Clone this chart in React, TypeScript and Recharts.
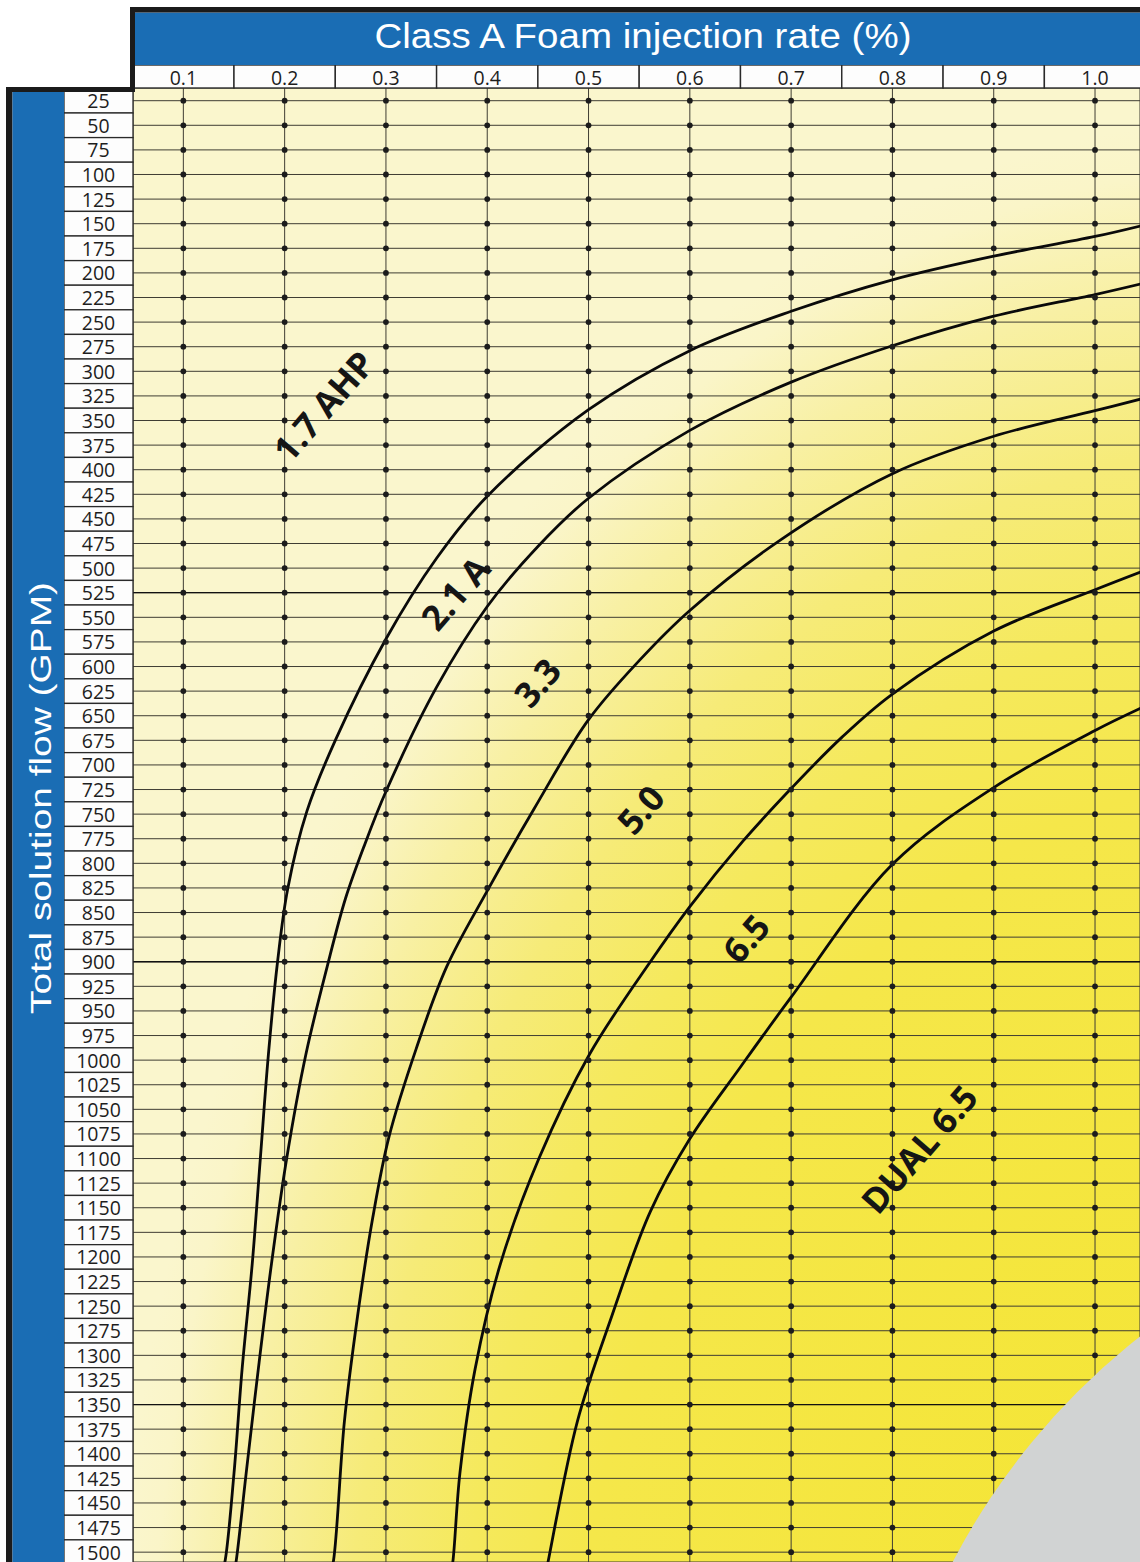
import React from "react";
import {
  ComposedChart,
  Line,
  Scatter,
  XAxis,
  YAxis,
  CartesianGrid,
  ReferenceDot,
  ReferenceLine,
} from "recharts";

// ticks
const injectionTicks = [0.1, 0.2, 0.3, 0.4, 0.5, 0.6, 0.7, 0.8, 0.9, 1.0];
const flowTicks = [
  25, 50, 75, 100, 125, 150, 175, 200, 225, 250, 275, 300, 325, 350, 375, 400,
  425, 450, 475, 500, 525, 550, 575, 600, 625, 650, 675, 700, 725, 750, 775,
  800, 825, 850, 875, 900, 925, 950, 975, 1000, 1025, 1050, 1075, 1100, 1125,
  1150, 1175, 1200, 1225, 1250, 1275, 1300, 1325, 1350, 1375, 1400, 1425, 1450,
  1475, 1500,
];
const darkRows = [525, 900, 1350];

// boundary curves between the pump zones (x = injection %, y = GPM)
const curveAhpA = [
  { x: 0.138, y: 1520 }, { x: 0.141, y: 1510 }, { x: 0.15, y: 1420 },
  { x: 0.158, y: 1314 }, { x: 0.168, y: 1207 }, { x: 0.176, y: 1100 },
  { x: 0.184, y: 994 }, { x: 0.193, y: 900 }, { x: 0.203, y: 826 },
  { x: 0.222, y: 747 }, { x: 0.25, y: 675 }, { x: 0.3, y: 572 },
  { x: 0.35, y: 490 }, { x: 0.4, y: 427 }, { x: 0.5, y: 339 },
  { x: 0.6, y: 279 }, { x: 0.7, y: 239 }, { x: 0.8, y: 207 },
  { x: 0.9, y: 183 }, { x: 1.0, y: 163 }, { x: 1.05, y: 151 },
];
const curveA33 = [
  { x: 0.15, y: 1520 }, { x: 0.152, y: 1510 }, { x: 0.162, y: 1420 },
  { x: 0.174, y: 1314 }, { x: 0.187, y: 1207 }, { x: 0.202, y: 1100 },
  { x: 0.221, y: 994 }, { x: 0.242, y: 905 }, { x: 0.26, y: 836 },
  { x: 0.279, y: 781 }, { x: 0.3, y: 727 }, { x: 0.35, y: 621 },
  { x: 0.4, y: 539 }, { x: 0.45, y: 478 }, { x: 0.5, y: 429 },
  { x: 0.6, y: 360 }, { x: 0.7, y: 311 }, { x: 0.8, y: 274 },
  { x: 0.9, y: 244 }, { x: 1.0, y: 222 }, { x: 1.05, y: 210 },
];
const curve33to50 = [
  { x: 0.245, y: 1520 }, { x: 0.248, y: 1510 }, { x: 0.259, y: 1367 },
  { x: 0.272, y: 1260 }, { x: 0.287, y: 1160 }, { x: 0.303, y: 1078 },
  { x: 0.33, y: 988 }, { x: 0.36, y: 905 }, { x: 0.4, y: 828 },
  { x: 0.446, y: 745 }, { x: 0.5, y: 654 }, { x: 0.55, y: 594 },
  { x: 0.6, y: 543 }, { x: 0.69, y: 471 }, { x: 0.8, y: 404 },
  { x: 0.9, y: 366 }, { x: 1.0, y: 340 }, { x: 1.05, y: 327 },
];
const curve50to65 = [
  { x: 0.364, y: 1520 }, { x: 0.366, y: 1510 }, { x: 0.373, y: 1420 },
  { x: 0.388, y: 1314 }, { x: 0.413, y: 1207 }, { x: 0.451, y: 1100 },
  { x: 0.501, y: 994 }, { x: 0.561, y: 900 }, { x: 0.6, y: 844 },
  { x: 0.652, y: 778 }, { x: 0.7, y: 724 }, { x: 0.75, y: 672 },
  { x: 0.8, y: 628 }, { x: 0.9, y: 564 }, { x: 1.0, y: 522 },
  { x: 1.05, y: 502 },
];
const curve65toDual = [
  { x: 0.458, y: 1520 }, { x: 0.46, y: 1510 }, { x: 0.489, y: 1367 },
  { x: 0.523, y: 1260 }, { x: 0.561, y: 1154 }, { x: 0.6, y: 1080 },
  { x: 0.65, y: 1007 }, { x: 0.7, y: 936 }, { x: 0.8, y: 801 },
  { x: 0.9, y: 723 }, { x: 1.0, y: 665 }, { x: 1.05, y: 640 },
];
const curves = [curveAhpA, curveA33, curve33to50, curve50to65, curve65toDual];

const zoneLabels = ["1.7 AHP", "2.1 A", "3.3", "5.0", "6.5", "DUAL 6.5"];
const zoneLabelX = [0.238, 0.368, 0.449, 0.551, 0.655, 0.826];
const zoneLabelY = [335, 525, 616, 745, 876, 1090];

// grid dots at every tick crossing
const gridDots = injectionTicks.flatMap((x) => flowTicks.map((y) => ({ x, y })));

const W = 1140;
const H = 1562;
const X_DOMAIN: [number, number] = [0.0503, 1.0444];
const Y_DOMAIN: [number, number] = [12.1, 1510];
const PLOT_W = 1007;
const PLOT_H = 1474;
const CELL_W = (0.1 * PLOT_W) / (X_DOMAIN[1] - X_DOMAIN[0]);
const ROW_H = (25 * PLOT_H) / (Y_DOMAIN[1] - Y_DOMAIN[0]);
const BLUE = "#1a6db4";
const FONT = "'Open Sans', 'DejaVu Sans', sans-serif";

// centripetal catmull-rom, so the near-vertical parts bend smoothly
const centripetal = (context: any) => {
  let pts: number[][] = [];
  return {
    areaStart() {},
    areaEnd() {},
    lineStart() {
      pts = [];
    },
    point(x: number, y: number) {
      pts.push([+x, +y]);
    },
    lineEnd() {
      const n = pts.length;
      if (!n) return;
      context.moveTo(pts[0][0], pts[0][1]);
      for (let i = 0; i < n - 1; i++) {
        const p0 = pts[Math.max(i - 1, 0)];
        const p1 = pts[i];
        const p2 = pts[i + 1];
        const p3 = pts[Math.min(i + 2, n - 1)];
        const l01 = Math.hypot(p1[0] - p0[0], p1[1] - p0[1]);
        const l12 = Math.hypot(p2[0] - p1[0], p2[1] - p1[1]);
        const l23 = Math.hypot(p3[0] - p2[0], p3[1] - p2[1]);
        const a01 = Math.sqrt(l01);
        const a12 = Math.sqrt(l12);
        const a23 = Math.sqrt(l23);
        let c1 = p1;
        let c2 = p2;
        if (a01 > 1e-6) {
          const a = 2 * l01 + 3 * a01 * a12 + l12;
          const m = 3 * a01 * (a01 + a12);
          c1 = [
            (p1[0] * a - p0[0] * l12 + p2[0] * l01) / m,
            (p1[1] * a - p0[1] * l12 + p2[1] * l01) / m,
          ];
        }
        if (a23 > 1e-6) {
          const b = 2 * l23 + 3 * a23 * a12 + l12;
          const m = 3 * a23 * (a23 + a12);
          c2 = [
            (p2[0] * b + p1[0] * l23 - p3[0] * l12) / m,
            (p2[1] * b + p1[1] * l23 - p3[1] * l12) / m,
          ];
        }
        context.bezierCurveTo(c1[0], c1[1], c2[0], c2[1], p2[0], p2[1]);
      }
    },
  };
};

function XTick(props: any) {
  const { x, payload } = props;
  return (
    <g>
      <rect x={x - CELL_W / 2} y={65} width={CELL_W} height={23} fill="#fdfdfd" stroke="#2a2a2a" strokeWidth={1.4} />
      <text x={x} y={77.5} textAnchor="middle" dominantBaseline="central" fontFamily={FONT} fontSize={19.5} fill="#1e1e1e">
        {Number(payload.value).toFixed(1)}
      </text>
    </g>
  );
}

function YTick(props: any) {
  const { y, payload } = props;
  return (
    <g>
      <rect x={64} y={y - ROW_H / 2} width={69} height={ROW_H} fill="#fdfdfd" stroke="#2a2a2a" strokeWidth={1.3} />
      <text x={98.5} y={y} textAnchor="middle" dominantBaseline="central" fontFamily={FONT} fontSize={19.5} fill="#1e1e1e">
        {payload.value}
      </text>
    </g>
  );
}

export default function App() {
  return (
    <div style={{ position: "relative", width: W, height: H, background: "#fff", overflow: "hidden" }}>
      <style>{"body{margin:0}"}</style>
      <div
        style={{
          position: "absolute",
          left: 133,
          top: 88,
          width: PLOT_W,
          height: PLOT_H,
          background:
            "radial-gradient(1150px 1650px at 1130px 1680px, #f4e42a 0%, #f5e74a 60%, #f5e95c 70%, #f6eb78 80%, #f8f0a4 90%, #faf5c8 97%, #faf6cd 100%)",
        }}
      />
      <div style={{ position: "absolute", left: 0, top: 0 }}>
        <ComposedChart width={W} height={H} margin={{ top: 65, right: 0, bottom: 0, left: 64 }}>
          <XAxis
            type="number"
            dataKey="x"
            orientation="top"
            domain={X_DOMAIN}
            ticks={injectionTicks}
            interval={0}
            allowDataOverflow
            height={23}
            axisLine={false}
            tickLine={false}
            tick={(p: any) => <XTick {...p} />}
          />
          <YAxis
            type="number"
            dataKey="y"
            domain={Y_DOMAIN}
            reversed
            ticks={flowTicks}
            interval={0}
            allowDataOverflow
            width={69}
            axisLine={false}
            tickLine={false}
            tick={(p: any) => <YTick {...p} />}
          />
          <CartesianGrid stroke="#3f3d33" strokeWidth={1} />
          {darkRows.map((r) => (
            <ReferenceLine key={r} y={r} stroke="#111" strokeWidth={1.3} />
          ))}
          <Scatter
            data={gridDots}
            isAnimationActive={false}
            shape={(p: any) => <circle cx={p.cx} cy={p.cy} r={2.9} fill="#1c1c1c" />}
          />
          {curves.map((c, i) => (
            <Line
              key={i}
              data={c}
              dataKey="y"
              type={centripetal as any}
              stroke="#0a0a0a"
              strokeWidth={2.8}
              dot={false}
              activeDot={false}
              isAnimationActive={false}
            />
          ))}
          <ReferenceDot
            x={1.467}
            y={1836}
            r={694}
            fill="#d1d3d3"
            stroke="none"
            ifOverflow="hidden"
          />
          {zoneLabels.map((t, i) => (
            <ReferenceDot
              key={t}
              x={zoneLabelX[i]}
              y={zoneLabelY[i]}
              r={0}
              ifOverflow="visible"
              shape={(p: any) => (
                <text
                  x={p.cx}
                  y={p.cy}
                  transform={`rotate(-49 ${p.cx} ${p.cy})`}
                  textAnchor="middle"
                  dominantBaseline="central"
                  fontFamily={FONT}
                  fontWeight={700}
                  fontSize={35}
                  fill="#151515"
                >
                  {t}
                </text>
              )}
            />
          ))}
        </ComposedChart>
      </div>
      <svg width={W} height={H} style={{ position: "absolute", left: 0, top: 0, pointerEvents: "none" }}>
        <rect x={135} y={12.5} width={1005} height={52.5} fill={BLUE} />
        <rect x={130} y={7} width={1010} height={5.5} fill="#1b1b1b" />
        <rect x={130} y={7} width={5} height={85} fill="#1b1b1b" />
        <rect x={6} y={87} width={129} height={5} fill="#1b1b1b" />
        <rect x={6} y={87} width={6.5} height={H - 87} fill="#1b1b1b" />
        <rect x={12.5} y={92} width={51.5} height={H - 92} fill={BLUE} />
        <text
          x={643}
          y={48}
          textAnchor="middle"
          fontFamily="'Liberation Sans', Arial, sans-serif"
          fontSize={35}
          fill="#fff"
          textLength={537}
          lengthAdjust="spacingAndGlyphs"
        >
          Class A Foam injection rate (%)
        </text>
        <text
          transform="translate(51 798) rotate(-90)"
          textAnchor="middle"
          fontFamily="'Liberation Sans', Arial, sans-serif"
          fontSize={30}
          fill="#fff"
          textLength={432}
          lengthAdjust="spacingAndGlyphs"
        >
          Total solution flow (GPM)
        </text>
      </svg>
    </div>
  );
}
